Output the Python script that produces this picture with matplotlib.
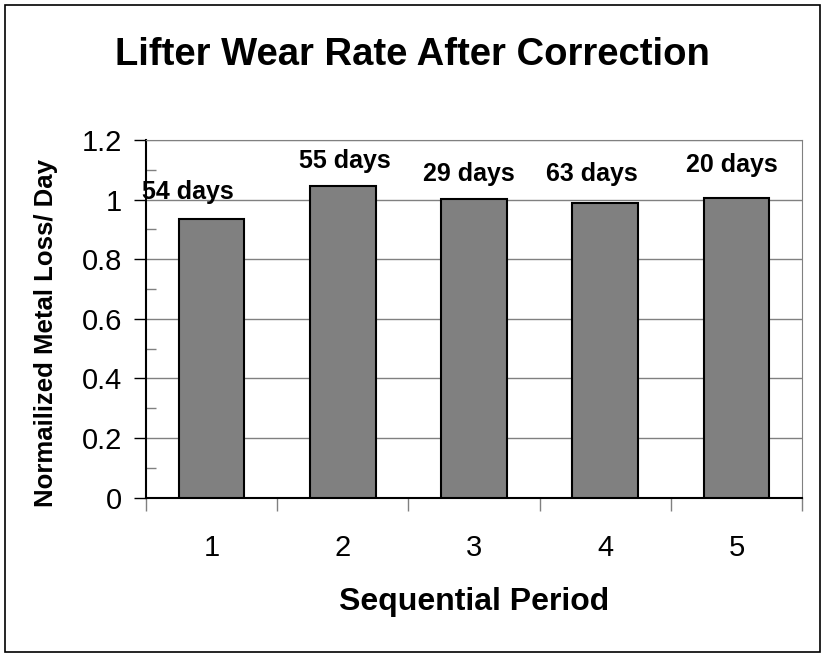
import matplotlib.pyplot as plt
from matplotlib.patches import Rectangle
from matplotlib.ticker import MultipleLocator, FixedLocator, NullFormatter

plt.rcParams["font.family"] = ["Liberation Sans", "DejaVu Sans"]

# data
periods = ["1", "2", "3", "4", "5"]
wear_rate = [0.934, 1.047, 1.001, 0.988, 1.007]
day_labels = ["54 days", "55 days", "29 days", "63 days", "20 days"]

# label nudges (x in categories, y in data units)
label_dx = [-0.18, 0.02, -0.04, -0.1, -0.04]
label_dy = [0.092, 0.083, 0.085, 0.098, 0.109]

fig = plt.figure(figsize=(8.25, 6.57), dpi=100)
fig.patches.append(Rectangle((0.006, 0.008), 0.988, 0.984, transform=fig.transFigure,
                             fill=False, edgecolor="black", linewidth=1.2))

ax = fig.add_axes([0.1766, 0.2425, 0.7959, 0.5444])
x = list(range(1, len(periods) + 1))
ax.bar(x, wear_rate, width=0.5, color="#808080", edgecolor="black", linewidth=1.5, zorder=3)

for xi, v, lab, dx, dy in zip(x, wear_rate, day_labels, label_dx, label_dy):
    ax.text(xi + dx, v + dy, lab, ha="center", va="center", fontsize=18, fontweight="bold")

ax.set_xlim(0.5, len(periods) + 0.5)
ax.set_ylim(0, 1.2)
ax.yaxis.set_major_locator(MultipleLocator(0.2))
ax.yaxis.set_minor_locator(MultipleLocator(0.1))
ax.set_yticklabels([f"{t:g}" for t in ax.get_yticks()])
ax.tick_params(axis="y", which="major", direction="out", length=9, width=1, labelsize=21, pad=8)
ax.tick_params(axis="y", which="minor", direction="in", length=7, width=1, colors="#808080")

# category labels between boundary ticks
ax.xaxis.set_major_locator(FixedLocator([i + 0.5 for i in range(len(periods) + 1)]))
ax.xaxis.set_major_formatter(NullFormatter())
ax.xaxis.set_minor_locator(FixedLocator(x))
ax.set_xticklabels(periods, minor=True)
ax.tick_params(axis="x", which="major", direction="out", length=9, width=1, color="#808080")
ax.tick_params(axis="x", which="minor", length=0, labelsize=21, pad=26)

ax.grid(axis="y", which="major", color="#808080", linewidth=1, zorder=0)
ax.set_axisbelow(True)
for side in ["top", "right"]:
    ax.spines[side].set_color("#808080")
for side in ["left", "bottom"]:
    ax.spines[side].set_color("black")
    ax.spines[side].set_linewidth(1.5)

ax.set_xlabel("Sequential Period", fontsize=23, fontweight="bold", labelpad=18)
ax.set_ylabel("Normailized Metal Loss/ Day", fontsize=18.5, fontweight="bold")
ax.yaxis.set_label_coords(-0.134, 0.46)
fig.text(0.5, 0.917, "Lifter Wear Rate After Correction", ha="center", va="center",
         fontsize=27.5, fontweight="bold")

plt.savefig("out.png", dpi=100)
plt.close()
